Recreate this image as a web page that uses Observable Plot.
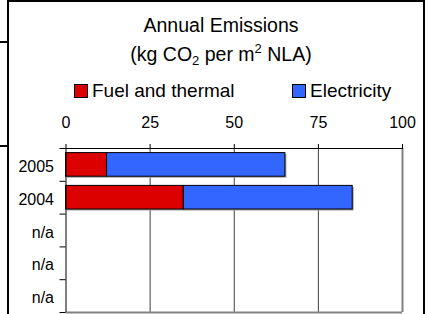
<!DOCTYPE html>
<html><head><meta charset="utf-8">
<script src="https://cdn.jsdelivr.net/npm/d3@7"></script>
<script src="https://cdn.jsdelivr.net/npm/@observablehq/plot@0.6"></script>
<style>
body{margin:0;background:#fff;font-family:"Liberation Sans",Arial,sans-serif;color:#000;}
#wrap{position:relative;width:430px;height:314px;overflow:hidden;}
.frame{position:absolute;left:7px;top:0;width:414px;height:330px;border-top:2px solid #000;border-left:2px solid #000;border-right:2px solid #000;}
.stub{position:absolute;left:0;width:8px;background:#000;}
#head{position:relative;height:105px;}
#title{position:absolute;left:0;top:11px;width:442px;text-align:center;font-size:19.5px;line-height:29px;}
#title sub,#title sup{font-size:13px;line-height:0;}
#title sub{vertical-align:-4px;}
#title sup{vertical-align:8px;}
.leg{position:absolute;top:81px;display:flex;align-items:center;font-size:19px;line-height:19px;white-space:nowrap;}
.sw{display:inline-block;box-sizing:border-box;width:14px;height:14px;border:1px solid #000;margin-right:4px;}
#chart{position:relative;}
#chart svg{display:block;overflow:visible;}
</style></head><body>
<div id="wrap">
  <div class="frame"></div>
  <div class="stub" style="top:41px;height:1.5px"></div>
  <div class="stub" style="top:145px;height:2px"></div>
  <div id="head">
    <div id="title">Annual Emissions<br>(kg CO<sub>2</sub> per m<sup>2</sup> NLA)</div>
  </div>
  <div id="chart"></div>
</div>
<script>
const categories = ["2005", "2004", "n/a", "n/a", "n/a"];
const fuel = [12.2, 35, null, null, null];
const electricity = [53, 50.2, null, null, null];
const seriesNames = ["Fuel and thermal", "Electricity"];
const seriesColors = ["#dd0000", "#3366ff"];
const xTicks = [0, 25, 50, 75, 100];
const legendLeft = [74, 292];

// legend
const head = document.getElementById("head");
seriesNames.forEach((name, k) => {
  const d = document.createElement("div");
  d.className = "leg";
  d.style.left = legendLeft[k] + "px";
  const s = document.createElement("span");
  s.className = "sw";
  s.style.background = seriesColors[k];
  d.appendChild(s);
  d.appendChild(document.createTextNode(name));
  head.appendChild(d);
});

const rows = [];
categories.forEach((c, i) => {
  if (fuel[i] == null) return;
  rows.push({i, series: seriesNames[0], x1: 0, x2: fuel[i]});
  rows.push({i, series: seriesNames[1], x1: fuel[i], x2: fuel[i] + electricity[i]});
});
const totals = rows.filter(d => d.series === seriesNames[1]);
const pad = 0.14;
const bandIdx = categories.map((c, i) => i);

const plot = Plot.plot({
  width: 430, height: 209,
  marginLeft: 65.5, marginRight: 28, marginTop: 43, marginBottom: 2,
  style: {fontFamily: '"Liberation Sans", Arial, sans-serif', fontSize: "16px", color: "#000", background: "transparent", overflow: "visible"},
  x: {domain: [0, 100]},
  y: {domain: [0, categories.length], reverse: true},
  color: {domain: seriesNames, range: seriesColors},
  marks: [
    Plot.ruleX(xTicks.slice(1, -1), {stroke: "#404040", strokeWidth: 1}),
    Plot.rect(totals, {x1: 0, x2: "x2", y1: d => d.i + pad, y2: d => d.i + 1 - pad, fill: "#a0a0a0", dx: 1.5, dy: 1.5}),
    Plot.rect(rows, {x1: "x1", x2: "x2", y1: d => d.i + pad, y2: d => d.i + 1 - pad, fill: "series", stroke: "#000", strokeWidth: 1}),
    Plot.ruleX([100], {stroke: "#808080", strokeWidth: 2}),
    Plot.ruleY([categories.length], {stroke: "#808080", strokeWidth: 2}),
    Plot.ruleY([0], {stroke: "#000", strokeWidth: 1}),
    Plot.ruleX([0], {stroke: "#000", strokeWidth: 1}),
    Plot.axisX({anchor: "top", ticks: xTicks, tickSize: 5, tickPadding: 16, label: null, fontSize: 16}),
    Plot.axisY({ticks: [...bandIdx, categories.length], tickSize: 6, tickFormat: () => "", label: null}),
    Plot.axisY({ticks: bandIdx.map(i => i + 0.5), tickSize: 0, tickPadding: 12, dy: 2, tickFormat: v => categories[Math.floor(v)], label: null, fontSize: 16})
  ]
});
document.getElementById("chart").appendChild(plot);
</script>
</body></html>
